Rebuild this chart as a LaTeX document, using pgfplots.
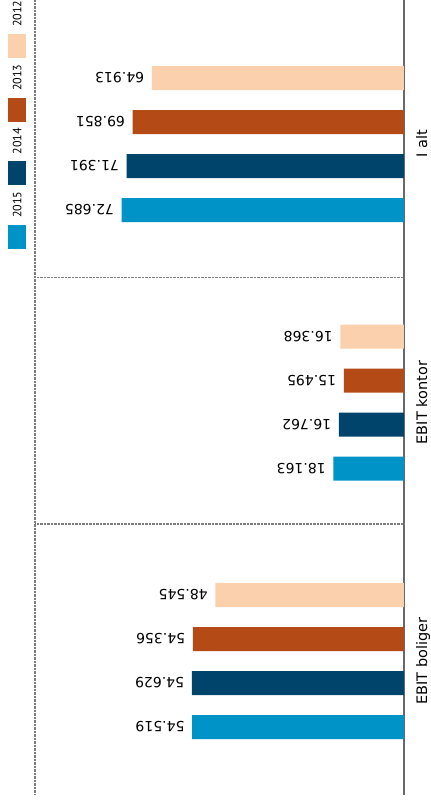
\documentclass[border=0pt]{standalone}
\usepackage{pgfplots}
\usepackage{pgfplotstable}
\pgfplotsset{compat=1.18}
\usepackage{fontspec}
\setmainfont{DejaVu Sans}
\newfontfamily\legfont{PT Sans}
\definecolor{c12}{RGB}{251,208,173}
\definecolor{c13}{RGB}{180,74,22}
\definecolor{c14}{RGB}{0,68,107}
\definecolor{c15}{RGB}{0,147,200}
\definecolor{axgray}{RGB}{105,105,105}
\definecolor{dotgray}{RGB}{125,125,125}

% group: 0 = I alt, 1 = EBIT kontor, 2 = EBIT boliger
\pgfplotstableread{
g v
0 64.913
1 16.368
2 48.545
}\tA
\pgfplotstableread{
g v
0 69.851
1 15.495
2 54.356
}\tB
\pgfplotstableread{
g v
0 71.391
1 16.762
2 54.629
}\tC
\pgfplotstableread{
g v
0 72.685
1 18.163
2 54.519
}\tD

\begin{document}
\begin{tikzpicture}
\begin{axis}[
  scale only axis, width=369pt, height=795pt,
  xbar, bar width=24pt,
  x dir=reverse, y dir=reverse,
  xmin=0, xmax=95,
  ymin=-0.557, ymax=2.518,
  axis x line*=bottom,
  x axis line style={draw=none},
  xtick=\empty,
  axis y line*=right,
  y axis line style={axgray, line width=1.3pt},
  ytick={0,1,2},
  yticklabels={I alt, EBIT kontor, EBIT boliger},
  yticklabel style={rotate=90, anchor=north, font=\fontsize{14.5}{17}\selectfont, inner xsep=0pt, inner ysep=12pt},
  major tick length=0pt,
  extra y ticks={0.515,1.47},
  extra y tick labels={},
  extra y tick style={grid=major, major grid style={dotgray, densely dotted, line width=1.2pt}},
  extra x ticks={95},
  extra x tick labels={},
  extra x tick style={grid=major, major grid style={dotgray, densely dotted, line width=1.2pt}},
  point meta=x,
  nodes near coords,
  every node near coord/.append style={rotate=180, anchor=west, inner xsep=7.5pt, font=\fontsize{14}{16}\selectfont, black},
  nodes near coords style={/pgf/number format/.cd, fixed, precision=3, fixed zerofill, assume math mode=true},
  legend image code/.code={},
  legend style={at={(axis description cs:-0.073,0.999)}, anchor=north west, draw=none, fill=none, inner sep=0pt, outer sep=0pt, row sep=5pt, column sep=0pt, nodes={inner sep=0pt}, cells={anchor=north}},
]
\addplot[fill=c12, draw=none, bar shift=66pt] table[x=v, y=g] {\tA};
\addlegendentry{\shortstack{\legfont\fontsize{12}{12}\selectfont\rotatebox{90}{2012}\\[4pt]\textcolor{c12}{\rule{18pt}{24pt}}}}
\addplot[fill=c13, draw=none, bar shift=22pt] table[x=v, y=g] {\tB};
\addlegendentry{\shortstack{\legfont\fontsize{12}{12}\selectfont\rotatebox{90}{2013}\\[4pt]\textcolor{c13}{\rule{18pt}{24pt}}}}
\addplot[fill=c14, draw=none, bar shift=-22pt] table[x=v, y=g] {\tC};
\addlegendentry{\shortstack{\legfont\fontsize{12}{12}\selectfont\rotatebox{90}{2014}\\[4pt]\textcolor{c14}{\rule{18pt}{24pt}}}}
\addplot[fill=c15, draw=none, bar shift=-66pt] table[x=v, y=g] {\tD};
\addlegendentry{\shortstack{\legfont\fontsize{12}{12}\selectfont\rotatebox{90}{2015}\\[4pt]\textcolor{c15}{\rule{18pt}{24pt}}}}
\end{axis}
\pgfresetboundingbox
\path[use as bounding box] ([xshift=-35pt,yshift=-16pt]current axis.south west) rectangle ([xshift=27pt]current axis.north east);
\end{tikzpicture}
\end{document}
